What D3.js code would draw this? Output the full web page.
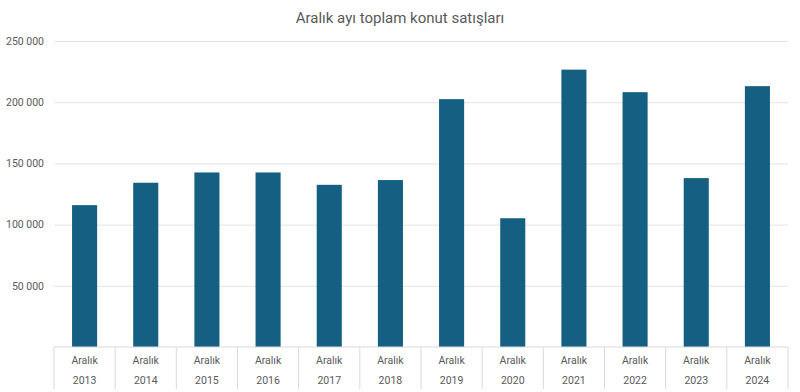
<!DOCTYPE html>
<html>
<head>
<meta charset="utf-8">
<script src="https://cdn.jsdelivr.net/npm/d3@7"></script>
<style>
  body { margin: 0; background: #fff; }
  text { font-family: Roboto, "Open Sans", sans-serif; }
</style>
</head>
<body>
<div class="chart"></div>
<script>
const years = ["2013", "2014", "2015", "2016", "2017", "2018", "2019", "2020", "2021", "2022", "2023", "2024"];
const month = "Aralık";
const sales = [115900, 134200, 142600, 142600, 132500, 136400, 202500, 105200, 226600, 208200, 138000, 213100];
const yTicks = [50000, 100000, 150000, 200000, 250000];
const title = "Aralık ayı toplam konut satışları";

const width = 800, height = 392;
const margin = ({top: 41, right: 12, bottom: 45, left: 54});

const svg = d3.select(".chart").append("svg")
  .attr("width", width)
  .attr("height", height);

const xScale = d3.scaleBand()
  .domain(years)
  .range([margin.left, width - margin.right])
  .paddingInner(0.59)
  .paddingOuter(0.295);

const cellScale = d3.scaleBand()
  .domain(years)
  .range([margin.left, width - margin.right]);

const yScale = d3.scaleLinear()
  .domain([0, 250000])
  .range([height - margin.bottom, margin.top]);

const fmt = d3.formatLocale({decimal: ",", thousands: " ", grouping: [3], currency: ["", ""]}).format(",d");

// grid + y labels
const yAxis = d3.axisLeft(yScale)
  .tickValues(yTicks)
  .tickSize(-(width - margin.left - margin.right))
  .tickPadding(10)
  .tickFormat(fmt);

svg.append("g")
  .attr("class", "axis y-axis")
  .attr("transform", "translate(" + margin.left + ",0)")
  .call(yAxis)
  .call(g => g.select(".domain").remove())
  .call(g => g.selectAll(".tick line").attr("stroke", "#e3e3e3"))
  .call(g => g.selectAll(".tick text")
    .attr("fill", "#595959")
    .attr("font-size", "10.5px"));

// bars
svg.append("g")
  .attr("fill", "#156082")
  .selectAll("rect")
  .data(years)
  .join("rect")
  .attr("x", d => xScale(d))
  .attr("y", (d, i) => yScale(sales[i]))
  .attr("width", xScale.bandwidth())
  .attr("height", (d, i) => yScale(0) - yScale(sales[i]));

// category axis (table-like)
const base = yScale(0);
const axisG = svg.append("g").attr("class", "axis x-axis");

axisG.append("line")
  .attr("x1", margin.left).attr("x2", width - margin.right)
  .attr("y1", base).attr("y2", base)
  .attr("stroke", "#d9d9d9");

const edges = years.map(d => cellScale(d)).concat([width - margin.right]);
axisG.selectAll(".sep")
  .data(edges)
  .join("line")
  .attr("class", "sep")
  .attr("x1", d => d).attr("x2", d => d)
  .attr("y1", base).attr("y2", base + 42)
  .attr("stroke", "#d9d9d9");

axisG.selectAll(".month")
  .data(years)
  .join("text")
  .attr("class", "month")
  .attr("x", d => cellScale(d) + cellScale.bandwidth() / 2)
  .attr("y", base + 17)
  .attr("text-anchor", "middle")
  .attr("fill", "#595959")
  .attr("font-size", "10.5px")
  .text(month);

axisG.selectAll(".year")
  .data(years)
  .join("text")
  .attr("class", "year")
  .attr("x", d => cellScale(d) + cellScale.bandwidth() / 2)
  .attr("y", base + 37)
  .attr("text-anchor", "middle")
  .attr("fill", "#595959")
  .attr("font-size", "10.5px")
  .text(d => d);

svg.append("text")
  .attr("x", width / 2)
  .attr("y", 23)
  .attr("text-anchor", "middle")
  .attr("fill", "#595959")
  .attr("font-size", "15px")
  .text(title);
</script>
</body>
</html>
